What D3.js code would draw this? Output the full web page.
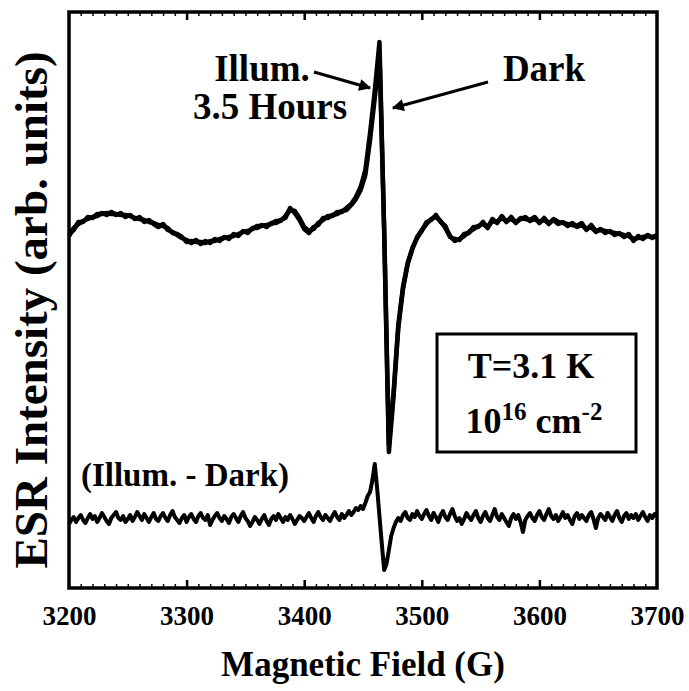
<!DOCTYPE html>
<html>
<head>
<meta charset="utf-8">
<script src="https://cdn.jsdelivr.net/npm/d3@7"></script>
</head>
<body style="margin:0;background:#fff">
<svg id="chart" width="689" height="691"></svg>
<script>
// Field sweeps: upper spectra sampled every 4 G, difference every 2 G, from 3200 G
const fieldStart = 3200;
const spectrumStep = 4;
const diffStep = 2;
const xTicks = [3200, 3300, 3400, 3500, 3600, 3700];

// ESR signal, arbitrary units (traces stacked with their own offsets)
const darkSignal = [
  352,360,364,367,369,371,372,375,373,376,
  373,375,371,373,369,371,366,368,364,361,
  364,358,356,353,350,348,345,348,344,347,
  345,349,347,351,349,354,352,357,355,360,
  360,363,361,365,365,368,370,380,375,368,
  359,355,361,363,370,370,373,374,377,378,
  383,389,398,413,448,490,536,360,143,196,
  263,301,325,340,350,358,364,369,371,367,
  360,352,347,349,352,356,359,362,364,361,
  367,366,370,367,369,366,369,371,367,369,
  366,368,365,368,364,366,362,365,361,363,
  359,361,356,359,355,357,353,355,351,354,
  347,352,349,353,350,352
];
const illumSignal = [
  354,358,366,366,371,370,374,374,375,374,
  374,373,373,372,370,369,368,366,365,363,
  362,360,355,354,351,346,347,346,346,345,
  347,347,349,350,351,352,354,356,357,359,
  362,362,363,364,367,367,372,378,377,370,
  361,357,359,365,368,372,372,376,376,380,
  384,391,401,418,455,497,546,355,136,192,
  260,299,324,339,351,357,366,368,373,366,
  362,351,349,348,354,355,361,361,366,360,
  369,365,372,366,371,365,370,369,368,371,
  365,370,364,369,366,365,364,363,362,365,
  358,363,357,358,357,356,355,354,353,352,
  349,350,351,352,351,353
];
const diffSignal = [
  64,68,71,66,70,73,68,65,70,74,
  69,72,66,70,75,71,67,64,70,73,
  76,70,68,72,66,69,73,67,71,76,
  72,68,74,70,66,71,75,69,67,72,
  75,70,67,73,77,71,68,65,70,73,
  66,71,74,69,66,72,75,70,68,73,
  63,68,72,75,70,67,72,69,65,71,
  74,70,66,72,76,70,67,62,66,71,
  68,64,69,73,67,63,69,72,68,74,
  70,66,71,68,73,69,64,68,72,70,
  67,71,75,70,66,72,76,71,68,73,
  70,67,72,76,71,68,74,70,73,77,
  73,76,80,78,82,79,85,92,96,108,
  124,100,72,44,18,24,38,52,60,66,
  70,67,73,76,70,68,74,71,77,72,
  69,74,78,72,68,75,71,66,73,77,
  71,68,74,79,72,67,70,64,69,75,
  71,68,73,77,70,66,72,76,70,67,
  73,79,71,68,74,70,66,62,70,74,
  69,73,66,56,68,72,75,70,67,73,
  77,71,68,74,79,72,69,73,67,71,
  76,70,73,68,64,72,75,69,73,70,
  67,73,76,69,60,70,74,71,68,75,
  71,67,73,77,70,66,72,75,69,73,
  70,74,68,72,76,71,67,73,70,74,
  72
];

const serif = "Liberation Serif";
const width = 689, height = 691;
const margin = { top: 12, right: 32, bottom: 103, left: 69 };
const svg = d3.select("#chart")
  .attr("font-family", serif).attr("font-weight", "bold");

const x = d3.scaleLinear().domain([3200, 3700]).range([margin.left, width - margin.right]);
const y = d3.scaleLinear().domain([0, 576]).range([height - margin.bottom, margin.top]);

const lineFor = step => d3.line()
  .x((d, i) => x(fieldStart + i * step))
  .y(d => y(d));

// Spectra
const traces = svg.append("g");
[darkSignal, illumSignal].forEach(s => {
  traces.append("path").datum(s).attr("d", lineFor(spectrumStep))
    .attr("fill", "none").attr("stroke", "#000")
    .attr("stroke-width", 4.5).attr("stroke-linejoin", "round");
});
traces.append("path").datum(diffSignal).attr("d", lineFor(diffStep))
  .attr("fill", "none").attr("stroke", "#000")
  .attr("stroke-width", 4).attr("stroke-linejoin", "round");

// Frame with inward ticks on top and bottom
const minorTicks = d3.range(3210, 3700, 10);
const inner = xTicks.slice(1, -1);
const bottomY = height - margin.bottom, topY = margin.top;

function tickRow(axisFn, yPos, values, size, sw) {
  svg.append("g").attr("transform", `translate(0,${yPos})`)
    .call(axisFn(x).tickValues(values).tickSize(-size).tickFormat(""))
    .call(g => g.select(".domain").remove())
    .call(g => g.selectAll("line").attr("stroke-width", sw));
}
tickRow(d3.axisBottom, bottomY, minorTicks, 4, 1.5);
tickRow(d3.axisTop, topY, minorTicks, 4, 1.5);
tickRow(d3.axisBottom, bottomY, inner, 8, 2.5);
tickRow(d3.axisTop, topY, inner, 8, 2.5);

svg.append("rect")
  .attr("x", margin.left).attr("y", margin.top)
  .attr("width", width - margin.left - margin.right)
  .attr("height", height - margin.top - margin.bottom)
  .attr("fill", "none").attr("stroke", "#000").attr("stroke-width", 3.5);

// Tick labels
svg.append("g").attr("transform", `translate(0,${bottomY})`)
  .call(d3.axisBottom(x).tickValues(xTicks).tickSize(0).tickPadding(0).tickFormat(d3.format("d")))
  .attr("font-family", serif).attr("font-size", 27).attr("font-weight", "bold")
  .call(g => g.select(".domain").remove())
  .call(g => g.selectAll("text").attr("y", 37).attr("dy", null).attr("fill", "#000"));

// Axis titles
svg.append("text")
  .attr("x", (margin.left + width - margin.right) / 2)
  .attr("y", 676)
  .attr("text-anchor", "middle")
  .attr("font-size", 35)
  .text("Magnetic Field (G)");

svg.append("text")
  .attr("transform", `translate(47,310) rotate(-90)`)
  .attr("text-anchor", "middle")
  .attr("font-size", 47)
  .text("ESR Intensity (arb. units)");

// Annotations
svg.append("defs").append("marker")
  .attr("id", "head").attr("viewBox", "0 0 10 10")
  .attr("refX", 9).attr("refY", 5)
  .attr("markerWidth", 5).attr("markerHeight", 4)
  .attr("markerUnits", "strokeWidth")
  .attr("orient", "auto")
  .append("path").attr("d", "M0,0L10,5L0,10Z").attr("fill", "#000");

const ann = svg.append("g");
ann.append("text").attr("x", 262).attr("y", 81).attr("text-anchor", "middle")
  .attr("font-size", 37).text("Illum.");
ann.append("text").attr("x", 270).attr("y", 119).attr("text-anchor", "middle")
  .attr("font-size", 37).text("3.5 Hours");
ann.append("text").attr("x", 544).attr("y", 81).attr("text-anchor", "middle")
  .attr("font-size", 37).text("Dark");
ann.append("line").attr("x1", 314).attr("y1", 72).attr("x2", 370).attr("y2", 88)
  .attr("stroke", "#000").attr("stroke-width", 3).attr("marker-end", "url(#head)");
ann.append("line").attr("x1", 488).attr("y1", 82).attr("x2", 393).attr("y2", 108)
  .attr("stroke", "#000").attr("stroke-width", 3).attr("marker-end", "url(#head)");

ann.append("text").attr("x", 185).attr("y", 486).attr("text-anchor", "middle")
  .attr("font-size", 33).text("(Illum. - Dark)");

// Conditions box
ann.append("rect").attr("x", 437).attr("y", 334).attr("width", 199).attr("height", 118)
  .attr("fill", "#fff").attr("stroke", "#000").attr("stroke-width", 3);
ann.append("text").attr("x", 531).attr("y", 378).attr("text-anchor", "middle")
  .attr("font-size", 36).text("T=3.1 K");
const dose = ann.append("text").attr("x", 534).attr("y", 433).attr("text-anchor", "middle")
  .attr("font-size", 36);
dose.append("tspan").text("10");
dose.append("tspan").attr("dy", -13).attr("font-size", 25).text("16");
dose.append("tspan").attr("dy", 13).text(" cm");
dose.append("tspan").attr("dy", -13).attr("font-size", 25).text("-2");
</script>
</body>
</html>
